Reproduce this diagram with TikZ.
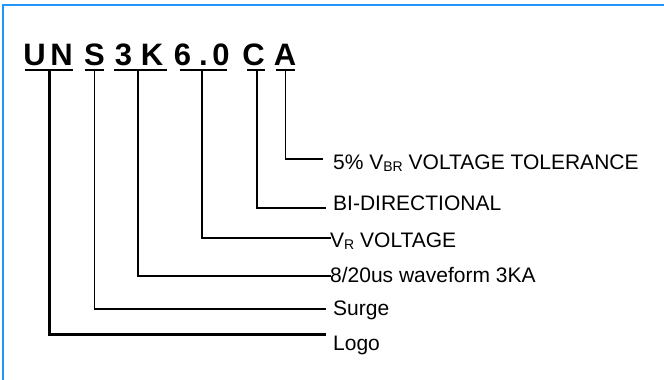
\documentclass[tikz,border=0pt]{standalone}
\usepackage{fontspec}
\setmainfont{Liberation Sans}
\definecolor{frameblue}{RGB}{30,150,250}
\begin{document}
\begin{tikzpicture}[x=1pt,y=-1pt,
  letter/.style={anchor=base,inner sep=0pt,font=\fontsize{31}{31}\selectfont\bfseries},
  lbl/.style={anchor=base west,inner sep=0pt,font=\fontsize{21}{21}\selectfont},
  uline/.style={line width=2.7pt},
  conn/.style={line width=1.5pt},
  subs/.style={}]
\useasboundingbox (0,0) rectangle (664,380);
% frame
\draw[frameblue,line width=2pt] (3,380) -- (3,5) -- (664,5);
% title letters
\node[letter] (lU) at (34.5,65) {U};
\node[letter] (lN) at (61.5,65) {N};
\node[letter] (lS) at (94.5,65) {S};
\node[letter] (l3) at (123.5,65) {3};
\node[letter] (lK) at (152,65) {K};
\node[letter] (l6) at (182.5,65) {6};
\node[letter] (lp) at (203.5,65) {.};
\node[letter] (l0) at (221,65) {0};
\node[letter] (lC) at (253.5,65) {C};
\node[letter] (lA) at (285,65) {A};
% underlines
\draw[uline] (25,70) -- coordinate[pos=0.5] (uUN) (73,70);
\draw[uline] (85,70) -- coordinate[pos=0.5] (uS) (104,70);
\draw[uline] (114,70) -- coordinate[pos=0.45] (uK) (167,70);
\draw[uline] (180,70) -- coordinate[pos=0.47] (u60) (227,70);
\draw[uline] (247,70) -- coordinate[pos=0.55] (uC) (265,70);
\draw[uline] (276,70) -- coordinate[pos=0.5] (uA) (295,70);
% labels
\node[lbl] (tA) at (333,169) {5\% V\raisebox{-0.12em}{\fontsize{14}{14}\selectfont BR} VOLTAGE TOLERANCE};
\node[lbl] (tC) at (333,210) {BI-DIRECTIONAL};
\node[lbl] (t60) at (330,247) {V\raisebox{-0.12em}{\fontsize{14}{14}\selectfont R} VOLTAGE};
\node[lbl] (tK) at (330,282) {8/20us waveform 3KA};
\node[lbl] (tS) at (333,315) {Surge};
\node[lbl] (tUN) at (333,350) {Logo};
% connector ends
\coordinate (eA) at (323,159);
\coordinate (eC) at (326,208);
\coordinate (e60) at (331,238);
\coordinate (eK) at (331,276);
\coordinate (eS) at (326,309);
\coordinate (eUN) at (326,334);
% connectors
\draw[conn] (uA) |- (eA);
\draw[conn] (uC) |- (eC);
\draw[conn,line width=1.8pt] (u60) |- (e60);
\draw[conn,line width=1.8pt] (uK) |- (eK);
\draw[conn] (uS) |- (eS);
\draw[conn,line width=3pt] (uUN) |- (eUN);
\end{tikzpicture}
\end{document}
